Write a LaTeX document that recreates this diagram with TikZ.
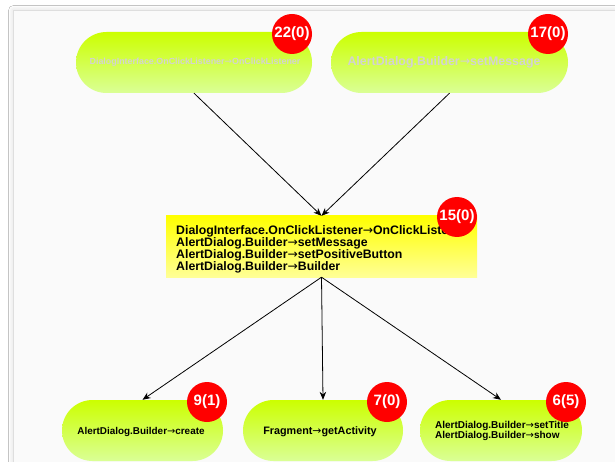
\documentclass[tikz,border=0pt]{standalone}
\usepackage{fontspec}
\setmainfont{Liberation Sans}
\newfontfamily\arrowfont{DejaVu Sans}
\newcommand\callarrow{{\arrowfont\mdseries →}}
\usetikzlibrary{arrows.meta,shadows.blur}

\definecolor{pilltop}{RGB}{204,255,0}
\definecolor{pillbot}{RGB}{218,255,150}
\definecolor{boxtop}{RGB}{255,255,0}
\definecolor{boxbot}{RGB}{255,255,150}
\definecolor{badgered}{RGB}{255,0,0}
\definecolor{paper}{RGB}{250,250,250}
\definecolor{paperedge}{RGB}{222,222,222}
\definecolor{fadedtext}{RGB}{210,210,210}

\tikzset{
  pill/.style={rectangle, rounded corners=30.5pt, minimum height=61pt,
    minimum width=#1, inner sep=0pt, top color=pilltop, bottom color=pillbot,
    draw=none},
  callbox/.style={rectangle, minimum width=311pt, minimum height=61pt,
    inner sep=0pt, top color=boxtop, bottom color=boxbot, draw=none},
  badge/.style={circle, fill=badgered, minimum size=40pt, inner sep=0pt,
    text=white, font=\bfseries\fontsize{15}{15}\selectfont},
  label/.style={inner sep=0pt, font=\bfseries\fontsize{#1}{#1}\selectfont},
  link/.style={draw=black, line width=0.8pt,
    -{Stealth[length=8pt,width=6.5pt]}},
}

\begin{document}
\begin{tikzpicture}[x=1pt,y=-1pt]
  \useasboundingbox (0,0) rectangle (615,462);
  \fill[white] (0,0) rectangle (615,462);

  % sheet behind the graph
  \fill[paper, draw=paperedge, line width=0.6pt,
        blur shadow={shadow xshift=0pt, shadow yshift=0pt,
                     shadow blur radius=5pt, shadow opacity=18}]
    (13.5,10.5) rectangle (640,480);

  % upper row
  \node[pill=236pt] (listener) at (194,62.5) {};
  \node[label=8.9, text=fadedtext] (listenertxt) at (195,62)
    {DialogInterface.OnClickListener\callarrow OnClickListener};
  \node[pill=237pt] (setmsg) at (449.5,62.5) {};
  \node[label=12.4, text=fadedtext] (setmsgtxt) at (444,62)
    {AlertDialog.Builder\callarrow setMessage};

  % central method
  \node[callbox] (main) at (321.5,246.5) {};
  \node[anchor=west, align=left, inner sep=0pt,
        font=\bfseries\fontsize{12.3}{12}\selectfont] (maintxt) at (176,249)
    {DialogInterface.OnClickListener\callarrow OnClickListener\\
     AlertDialog.Builder\callarrow setMessage\\
     AlertDialog.Builder\callarrow setPositiveButton\\
     AlertDialog.Builder\callarrow Builder};

  % lower row
  \node[pill=161pt] (create) at (142.5,430.5) {};
  \node[label=9.9] (createtxt) at (141,432) {AlertDialog.Builder\callarrow create};
  \node[pill=160pt] (activity) at (323,430.5) {};
  \node[label=10.8] (activitytxt) at (320,432) {Fragment\callarrow getActivity};
  \node[pill=162pt] (show) at (501,430.5) {};
  \node[align=left, inner sep=0pt, font=\bfseries\fontsize{10}{10}\selectfont]
    (showtxt) at (502,431)
    {AlertDialog.Builder\callarrow setTitle\\AlertDialog.Builder\callarrow show};

  % connectors
  \draw[link] (listener.south) -- (main.north);
  \draw[link] (setmsg.south) -- (main.north);
  \draw[link] (main.south) -- (create.north);
  \draw[link] (main.south) -- (activity.north);
  \draw[link] (main.south) -- (show.north);

  % counters
  \node[badge] (b22) at (292,34) {22(0)};
  \node[badge] (b17) at (548,34) {17(0)};
  \node[badge] (b15) at (457,217) {15(0)};
  \node[badge] (b9) at (207,402) {9(1)};
  \node[badge] (b7) at (387,402) {7(0)};
  \node[badge] (b6) at (566,402) {6(5)};
\end{tikzpicture}
\end{document}
